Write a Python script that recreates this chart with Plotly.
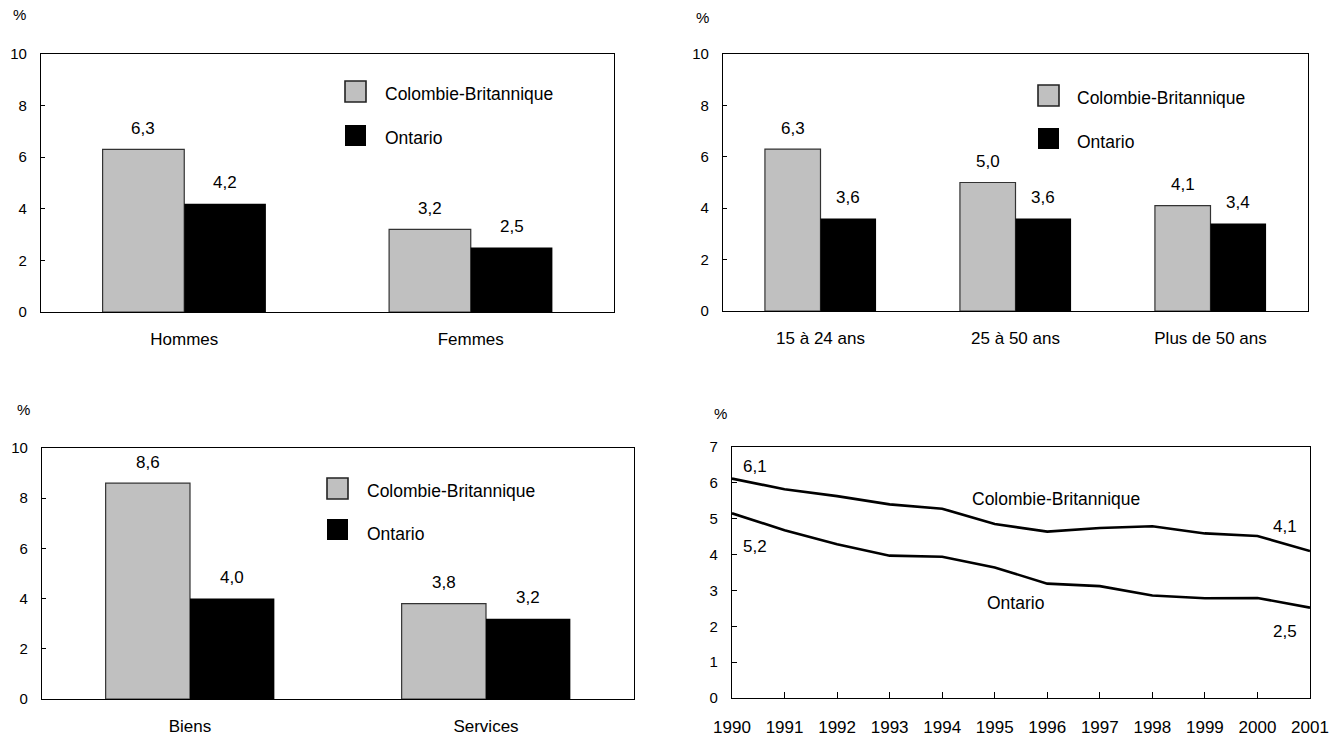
import plotly.graph_objects as go

W, H = 1343, 736
FONT = "Arial, Liberation Sans, sans-serif"

# ---------------- data ----------------
series = ["Colombie-Britannique", "Ontario"]
series_colors = ["#c0c0c0", "#000000"]

sex_cats = ["Hommes", "Femmes"]
sex_bc = [6.3, 3.2]
sex_on = [4.2, 2.5]

age_cats = ["15 à 24 ans", "25 à 50 ans", "Plus de 50 ans"]
age_bc = [6.3, 5.0, 4.1]
age_on = [3.6, 3.6, 3.4]

sect_cats = ["Biens", "Services"]
sect_bc = [8.6, 3.8]
sect_on = [4.0, 3.2]

years = [1990, 1991, 1992, 1993, 1994, 1995, 1996, 1997, 1998, 1999, 2000, 2001]
bc_rate = [6.12, 5.82, 5.63, 5.40, 5.28, 4.85, 4.64, 4.74, 4.79, 4.59, 4.52, 4.10]
on_rate = [5.15, 4.68, 4.29, 3.97, 3.94, 3.64, 3.19, 3.12, 2.86, 2.78, 2.79, 2.52]

BARGAP = 0.43


def fx(px):
    return px / W


def fy(py):
    return 1 - py / H


def fmt(v):
    return f"{v:.1f}".replace(".", ",")


fig = go.Figure()
annotations = []
shapes = []

# panel definitions: (cats, bc, on, axis suffix, x domain px, y domain px)
panels = [
    (sex_cats, sex_bc, sex_on, "", (41, 614), (54, 312)),
    (age_cats, age_bc, age_on, "2", (723, 1308), (54, 311)),
    (sect_cats, sect_bc, sect_on, "3", (42, 634), (448, 699)),
]

for cats, bc, on, sfx, (x0, x1), (y0, y1) in panels:
    xa, ya = "x" + sfx, "y" + sfx
    fig.add_trace(go.Bar(x=cats, y=bc, name=series[0], xaxis=xa, yaxis=ya,
                         marker=dict(color=series_colors[0], line=dict(color="#333333", width=1.2)),
                         showlegend=False, hoverinfo="skip"))
    fig.add_trace(go.Bar(x=cats, y=on, name=series[1], xaxis=xa, yaxis=ya,
                         marker=dict(color=series_colors[1], line=dict(color="#000000", width=0)),
                         showlegend=False, hoverinfo="skip"))
    off = (1 - BARGAP) / 4
    for i, (vb, vo) in enumerate(zip(bc, on)):
        for xv, val in ((i - off, vb), (i + off, vo)):
            annotations.append(dict(x=xv, y=val, xref=xa, yref=ya, text=fmt(val),
                                    showarrow=False, yanchor="middle", yshift=21,
                                    font=dict(size=17, family=FONT, color="black")))
    ax = dict(domain=[fx(x0), fx(x1)], anchor=ya, type="category", automargin=False,
              showline=True, mirror=True, linecolor="black", linewidth=1.3,
              ticks="", showgrid=False, zeroline=False,
              tickfont=dict(size=17, family=FONT, color="black"), ticklabelstandoff=11)
    ay = dict(domain=[fy(y1), fy(y0)], anchor=xa, range=[0, 10], dtick=2, automargin=False,
              showline=True, mirror=True, linecolor="black", linewidth=1.3,
              ticks="inside", ticklen=4, tickcolor="black", showgrid=False, zeroline=False,
              tickfont=dict(size=15, family=FONT, color="black"), ticklabelstandoff=10)
    fig.update_layout(**{"xaxis" + sfx: ax, "yaxis" + sfx: ay})

# legends drawn as swatches + text (paper coords)
legend_pos = [
    # (box x0, box x1, box1 y0, box1 y1, box2 y0, box2 y1, text x, text1 y, text2 y)
    (345, 366, 81, 102, 125, 146, 383, 94, 138),
    (1038, 1059, 85, 106, 128, 149, 1075, 98, 142),
    (327, 348, 478, 499, 519, 540, 365, 491, 534),
]
for bx0, bx1, a0, a1, b0, b1, tx, t1, t2 in legend_pos:
    shapes.append(dict(type="rect", xref="paper", yref="paper", x0=fx(bx0), x1=fx(bx1),
                       y0=fy(a1), y1=fy(a0), fillcolor=series_colors[0],
                       line=dict(color="#222222", width=1.6)))
    shapes.append(dict(type="rect", xref="paper", yref="paper", x0=fx(bx0), x1=fx(bx1),
                       y0=fy(b1), y1=fy(b0), fillcolor=series_colors[1],
                       line=dict(color="#000000", width=0)))
    for txt, ty in ((series[0], t1), (series[1], t2)):
        annotations.append(dict(x=fx(tx), y=fy(ty), xref="paper", yref="paper", text=txt,
                                showarrow=False, xanchor="left", yanchor="middle",
                                font=dict(size=17.5, family=FONT, color="black")))

# ---------------- line chart ----------------
fig.add_trace(go.Scatter(x=years, y=bc_rate, mode="lines", xaxis="x4", yaxis="y4",
                         line=dict(color="black", width=2.6), name=series[0],
                         showlegend=False, hoverinfo="skip"))
fig.add_trace(go.Scatter(x=years, y=on_rate, mode="lines", xaxis="x4", yaxis="y4",
                         line=dict(color="black", width=2.6), name=series[1],
                         showlegend=False, hoverinfo="skip"))
fig.update_layout(
    xaxis4=dict(domain=[fx(732), fx(1310)], anchor="y4", range=[years[0], years[-1]],
                tickvals=years, ticks="inside", ticklen=6, tickcolor="black", automargin=False,
                showline=True, mirror=True, linecolor="black", linewidth=1.3,
                showgrid=False, zeroline=False,
                tickfont=dict(size=17, family=FONT, color="black"), ticklabelstandoff=13),
    yaxis4=dict(domain=[fy(698), fy(447)], anchor="x4", range=[0, 7], dtick=1,
                ticks="inside", ticklen=5, tickcolor="black", automargin=False,
                showline=True, mirror=True, linecolor="black", linewidth=1.3,
                showgrid=False, zeroline=False,
                tickfont=dict(size=15, family=FONT, color="black"), ticklabelstandoff=10),
)

def line_label(x, y, text, xs, ys):
    annotations.append(dict(x=x, y=y, xref="x4", yref="y4", text=text, showarrow=False,
                            xshift=xs, yshift=ys, font=dict(size=17, family=FONT, color="black")))

line_label(years[0], bc_rate[0], fmt(bc_rate[0]), 23, 12)
line_label(years[0], on_rate[0], fmt(on_rate[0]), 23, -33)
line_label(years[-1], bc_rate[-1], fmt(bc_rate[-1]), -25, 24)
line_label(years[-1], on_rate[-1], fmt(on_rate[-1]), -25, -24)
annotations.append(dict(x=1996.17, y=5.56, xref="x4", yref="y4", text=series[0],
                        showarrow=False, font=dict(size=17.5, family=FONT, color="black")))
annotations.append(dict(x=1995.39, y=2.64, xref="x4", yref="y4", text=series[1],
                        showarrow=False, font=dict(size=17.5, family=FONT, color="black")))

# "%" unit labels
for px, py in ((19, 15), (702, 17), (23, 409), (721, 413)):
    annotations.append(dict(x=fx(px), y=fy(py), xref="paper", yref="paper", text="%",
                            showarrow=False, xanchor="center", yanchor="middle",
                            font=dict(size=15, family=FONT, color="black")))

fig.update_layout(
    template="none",
    width=W, height=H, margin=dict(l=0, r=0, t=0, b=0, pad=0, autoexpand=False),
    paper_bgcolor="white", plot_bgcolor="white",
    barmode="group", bargap=BARGAP, bargroupgap=0,
    annotations=annotations, shapes=shapes, showlegend=False,
    font=dict(family=FONT, color="black"),
)

fig.write_html("out.html", config={"displayModeBar": False},
               post_script="document.body.style.margin='0';")
